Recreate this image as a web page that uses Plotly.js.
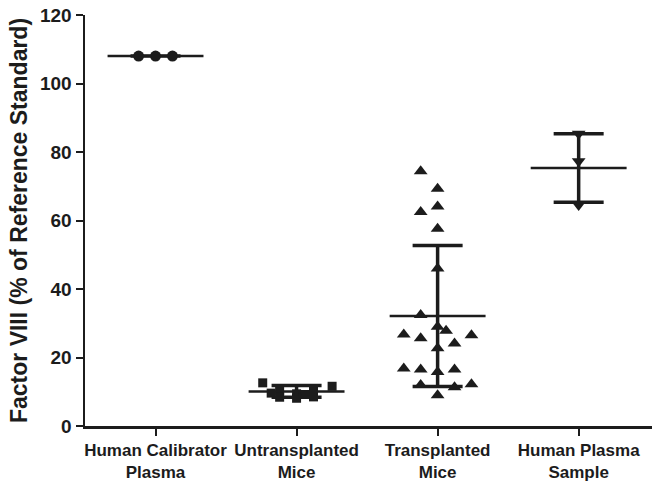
<!DOCTYPE html>
<html><head><meta charset="utf-8">
<script src="https://cdn.plot.ly/plotly-3.0.1.min.js"></script>
<style>html,body{margin:0;padding:0;background:#fff}#chart{width:659px;height:484px}</style>
</head><body><div id="chart"></div>
<script>
// categories / tick labels
const categories = ["Human Calibrator<br>Plasma", "Untransplanted<br>Mice", "Transplanted<br>Mice", "Human Plasma<br>Sample"];
// individual values per group (and horizontal slot within column)
const calibratorValues = [108, 108, 108];
const calibratorSlots = [-1, 0, 1];
const untransplantedValues = [12.6, 11.6, 10.4, 10.1, 9.6, 9.4, 9.2, 8.4, 8.1, 8.5];
const untransplantedSlots = [-2, 2.1, -1, 1, -1.5, 0, 0.5, -1, 0, 1];
const transplantedValues = [74.4, 69.3, 64.1, 62.5, 57.6, 46.0, 32.4, 29.0, 27.8, 26.7, 26.5, 25.6, 24.1, 22.7, 16.8, 16.5, 15.8, 16.5, 12.0, 11.3, 12.2, 9.0];
const transplantedSlots = [-1, 0, 0, -1, 0, 0, -1, 0, 0.5, -2, 2, -1, 1, 0, -2, -1, 0, 1, -1, 1, 2, 0];
const plasmaSampleValues = [85.3, 77.3, 64.5];
const plasmaSampleSlots = [0, 0, 0];
// summary (mean ± SD) as drawn
const groupMeans = [108.0, 10.1, 32.1, 75.3];
const groupSD = [0, 1.7, 20.6, 10.0];

const ink = "#1c1c1c";
const slotW = 0.12;
const meanHalf = 0.34;

function pts(idx, vals, slots, symbol, size) {
  return {
    type: "scatter", mode: "markers",
    x: slots.map(s => idx + s * slotW), y: vals,
    marker: {symbol: symbol, size: size, color: ink, line: {width: 0}},
    hoverinfo: "y", showlegend: false
  };
}
const traces = [
  pts(0, calibratorValues, calibratorSlots, "circle", 11),
  pts(1, untransplantedValues, untransplantedSlots, "square", 9),
  pts(2, transplantedValues, transplantedSlots, "triangle-up", 12),
  pts(3, plasmaSampleValues, plasmaSampleSlots, "triangle-down", 12)
];
// error bars (SD)
traces.push({
  type: "scatter", mode: "markers",
  x: categories.map((c, i) => i), y: groupMeans,
  marker: {size: 1, color: "rgba(0,0,0,0)"},
  error_y: {type: "data", array: groupSD, visible: true, color: ink, thickness: 3.5, width: 25},
  showlegend: false, hoverinfo: "skip"
});
// mean lines
groupMeans.forEach((m, i) => {
  traces.push({
    type: "scatter", mode: "lines",
    x: [i - meanHalf, i + meanHalf], y: [m, m],
    line: {color: ink, width: 2.5},
    showlegend: false, hoverinfo: "skip"
  });
});

const tickFont = {family: "Liberation Sans, Arial, sans-serif", size: 17, color: ink, weight: "bold"};
const layout = {
  width: 659, height: 484,
  margin: {l: 85, r: 7, t: 15, b: 58},
  paper_bgcolor: "#ffffff", plot_bgcolor: "#ffffff",
  xaxis: {
    range: [-0.5, 3.52], showgrid: false, zeroline: false,
    tickmode: "array", tickvals: categories.map((c, i) => i), ticktext: categories,
    ticks: "outside", ticklen: 7, tickwidth: 2, tickcolor: ink,
    showline: true, linecolor: ink, linewidth: 2.5,
    tickfont: tickFont
  },
  yaxis: {
    range: [0, 120], showgrid: false, zeroline: false,
    tickvals: [0, 20, 40, 60, 80, 100, 120],
    ticks: "outside", ticklen: 7, tickwidth: 2, tickcolor: ink,
    showline: true, linecolor: ink, linewidth: 2.5,
    tickfont: {family: "Liberation Sans, Arial, sans-serif", size: 19, color: ink, weight: "bold"},
    title: {text: "Factor VIII (% of Reference Standard)", standoff: 6,
      font: {family: "Liberation Sans, Arial, sans-serif", size: 23, color: ink, weight: "bold"}}
  }
};
Plotly.newPlot("chart", traces, layout, {displayModeBar: false, staticPlot: true});
</script></body></html>
